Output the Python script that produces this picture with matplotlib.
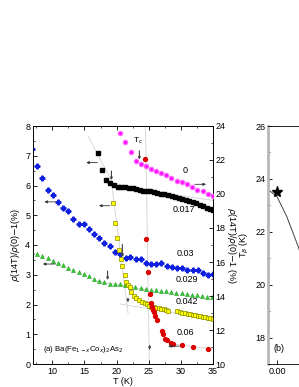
import numpy as np
import matplotlib
matplotlib.use("Agg")
import matplotlib.pyplot as plt
from matplotlib.ticker import MultipleLocator

plt.rcParams['font.family'] = ['Liberation Sans', 'DejaVu Sans']
plt.rcParams['font.size'] = 6.5

# x = 0 (right axis)
t_x0 = [20.5, 21.35, 22.18, 23.0, 23.77, 24.55, 25.36, 26.14, 26.97, 27.75, 28.53,
        29.42, 30.2, 30.98, 31.8, 32.58, 33.41, 34.19, 34.97]
r_x0 = [23.6, 23.03, 22.45, 21.97, 21.76, 21.63, 21.47, 21.35, 21.22, 21.10, 20.96,
        20.78, 20.69, 20.57, 20.39, 20.25, 20.16, 20.02, 19.86]

# x = 0.017
t_x017 = [17.14, 17.72, 18.36, 18.98, 19.56, 20.15, 20.76, 21.35, 21.9, 22.5, 23.05,
          23.6, 24.15, 24.7, 25.25, 25.8, 26.35, 26.9, 27.45, 28.0, 28.55, 29.1,
          29.65, 30.2, 30.75, 31.3, 31.85, 32.4, 32.95, 33.5, 34.05, 34.6, 35.0]
r_x017 = [7.08, 6.51, 6.19, 6.10, 6.01, 5.96, 5.96, 5.94, 5.92, 5.90, 5.88,
          5.85, 5.83, 5.82, 5.80, 5.78, 5.76, 5.73, 5.71, 5.68, 5.65, 5.62,
          5.58, 5.55, 5.51, 5.48, 5.44, 5.40, 5.36, 5.31, 5.26, 5.21, 5.16]

# x = 0.03
t_x03 = [6.9, 7.67, 8.45, 9.29, 10.12, 10.9, 11.73, 12.5, 13.29, 14.13, 14.9, 15.69,
         16.52, 17.3, 18.12, 18.9, 19.75, 20.57, 21.4, 22.15, 23.0, 23.77, 24.6,
         25.4, 26.19, 26.97, 27.86, 28.64, 29.42, 30.25, 30.98, 31.85, 32.63,
         33.47, 34.25, 34.97]
r_x03 = [7.23, 6.66, 6.25, 5.86, 5.67, 5.45, 5.24, 5.13, 4.88, 4.71, 4.71, 4.53,
         4.38, 4.25, 4.08, 3.96, 3.78, 3.70, 3.57, 3.60, 3.52, 3.52, 3.38,
         3.35, 3.35, 3.40, 3.30, 3.25, 3.23, 3.23, 3.16, 3.16, 3.16,
         3.07, 3.00, 3.03]

# x = 0.029
t_x029 = [6.9, 7.67, 8.45, 9.29, 10.12, 10.9, 11.73, 12.5, 13.29, 14.13, 14.9,
          15.74, 16.56, 17.34, 18.12, 18.9, 19.75, 20.5, 21.35, 22.13, 22.9, 23.74,
          24.52, 25.3, 26.1, 26.9, 27.7, 28.5, 29.3, 30.1, 30.9, 31.7, 32.5, 33.3,
          34.1, 34.9]
r_x029 = [3.75, 3.69, 3.64, 3.57, 3.47, 3.38, 3.32, 3.23, 3.16, 3.09, 3.03,
          2.95, 2.86, 2.80, 2.75, 2.70, 2.68, 2.68, 2.65, 2.59, 2.59, 2.55,
          2.51, 2.50, 2.48, 2.46, 2.44, 2.42, 2.40, 2.38, 2.35, 2.33, 2.31, 2.29,
          2.26, 2.24]

# x = 0.042
t_x042 = [19.48, 19.79, 20.03, 20.31, 20.62, 20.88, 21.24, 21.51, 21.82, 22.05, 22.29,
          22.65, 23.07, 23.49, 23.96, 24.36, 24.74, 25.1, 25.4, 25.75, 26.05, 26.55,
          26.95, 27.33, 27.7, 27.95, 29.42, 29.8, 30.2, 30.71, 31.1, 31.49, 31.9,
          32.27, 32.65, 33.05, 33.45, 33.83, 34.25, 34.6, 34.95]
r_x042 = [5.40, 4.73, 4.22, 3.82, 3.52, 3.29, 2.99, 2.77, 2.66, 2.58, 2.41,
          2.30, 2.22, 2.15, 2.08, 2.05, 2.01, 1.96, 1.93, 1.90, 1.88, 1.87,
          1.85, 1.84, 1.80, 1.78, 1.78, 1.75, 1.72, 1.70, 1.69, 1.68, 1.66,
          1.65, 1.63, 1.61, 1.59, 1.57, 1.55, 1.53, 1.52]

# x = 0.06
t_x06 = [24.45, 24.65, 24.85, 25.15, 25.4, 25.55, 25.7, 25.85, 26.05, 26.25, 27.05,
         27.2, 27.6, 27.85, 28.45, 28.7, 30.15, 31.9, 34.2]
r_x06 = [6.90, 4.19, 3.10, 2.35, 2.04, 1.90, 1.82, 1.74, 1.63, 1.47, 1.10,
         1.01, 0.85, 0.79, 0.70, 0.66, 0.64, 0.56, 0.52]

# panel (b)
b_curve_x = [-0.005, 0.0, 0.0054, 0.0118, 0.016]
b_curve_y = [23.6, 23.33, 22.58, 21.44, 20.5]
b_star_x = [0.0]
b_star_y = [23.52]

fig = plt.figure(figsize=(2.99, 3.87), dpi=100)
ax = fig.add_axes([33 / 299, 23 / 387, 180 / 299, 238 / 387])
ax2 = ax.twinx()
axb = fig.add_axes([268 / 299, 23 / 387, 162 / 299, 238 / 387])

ax.set_xlim(7, 35)
ax.set_ylim(0, 8)
ax2.set_ylim(10, 24)

# light guide lines
gl = dict(color='0.82', lw=0.6, zorder=1)
ax.plot([15.6, 19.4], [7.65, 6.08], **gl)
ax.plot([19.2, 21.8], [6.1, 1.7], **gl)
ax.plot([24.5, 25.1], [8.0, 0.0], **gl)
ax.plot([20.5, 35], [2.02, 1.5], **gl)
ax.plot([28.5, 35], [0.68, 0.5], **gl)
ax.plot([19.0, 35], [6.0, 5.5], **gl)
ax.plot([17.0, 24.5], [2.78, 2.5], **gl)

mk = dict(ls='none', zorder=3)
ax.plot(t_x017, r_x017, marker='s', ms=2.4, mfc='k', mec='k', **mk)
ax.plot(t_x03, r_x03, marker='P', ms=3.4, mfc='#1020e0', mec='#1020e0', **mk)
ax.plot(t_x029, r_x029, marker='^', ms=2.9, mfc='#33cc33', mec='#229922', mew=0.4, **mk)
ax.plot(t_x042, r_x042, marker='s', ms=2.7, mfc='#ffff00', mec='#8a8a00', mew=0.5, **mk)
ax.plot(t_x06, r_x06, marker='o', ms=2.8, mfc='#dd0000', mec='#dd0000', **mk)
ax2.plot(t_x0, r_x0, marker='o', ms=3.0, mfc='#ff00ff', mec='#ff66ff', **mk)

# axis arrows
ar = dict(arrowstyle='-|>,head_length=0.25,head_width=0.12', color='#333333', lw=0.6)
ax.annotate('', xy=(14.85, 6.77), xytext=(17.45, 6.77), arrowprops=ar)
ax.annotate('', xy=(16.83, 5.32), xytext=(19.37, 5.32), arrowprops=ar)
ax.annotate('', xy=(8.35, 5.45), xytext=(11.0, 5.45), arrowprops=ar)
ax.annotate('', xy=(8.1, 3.36), xytext=(10.9, 3.36), arrowprops=ar)
ax.annotate('', xy=(27.6, 0.6), xytext=(30.2, 0.6), arrowprops=ar)
ax2.annotate('', xy=(34.35, 20.57), xytext=(31.75, 20.57), arrowprops=ar)

# Tc markers
tc = dict(arrowstyle='-|>,head_length=0.2,head_width=0.1', color='#444444', lw=0.8)
ax.annotate('', xy=(19.2, 6.09), xytext=(19.2, 6.58), arrowprops=tc)
ax.annotate('', xy=(20.9, 3.5), xytext=(20.9, 4.11), arrowprops=tc)
ax.annotate('', xy=(18.6, 2.73), xytext=(18.6, 3.22), arrowprops=tc)
ax.annotate('', xy=(21.77, 1.98), xytext=(21.77, 2.3), arrowprops=tc)
ax.annotate('', xy=(25.15, 0.75), xytext=(25.15, 0.4), arrowprops=tc)
ax2.annotate('', xy=(23.55, 21.86), xytext=(23.55, 22.7), arrowprops=tc)
ax2.text(23.3, 22.85, r'T$_c$', fontsize=6, ha='center', va='bottom')

# series labels
ax2.text(30.6, 21.41, '0', ha='center', va='center')
ax.text(30.4, 5.19, '0.017', ha='center', va='center')
ax.text(30.7, 3.72, '0.03', ha='center', va='center')
ax.text(30.9, 2.85, '0.029', ha='center', va='center')
ax.text(30.9, 2.09, '0.042', ha='center', va='center')
ax.text(30.7, 1.05, '0.06', ha='center', va='center')
ax.text(8.5, 0.5, r'(a) Ba(Fe$_{1-x}$Co$_x$)$_2$As$_2$', fontsize=5.6, ha='left', va='center')

ax.set_xlabel('T (K)', labelpad=1)
ax.set_ylabel(r'$\rho$(14T)/$\rho$(0)$-$1(%)', labelpad=2)
ax2.set_ylabel(r'$\rho$(14T)/$\rho$(0)$-$1 (%)', rotation=270, labelpad=9)

ax.xaxis.set_major_locator(MultipleLocator(5))
ax.xaxis.set_minor_locator(MultipleLocator(2.5))
ax.yaxis.set_major_locator(MultipleLocator(1))
ax.yaxis.set_minor_locator(MultipleLocator(0.5))
ax2.yaxis.set_major_locator(MultipleLocator(2))
ax2.yaxis.set_minor_locator(MultipleLocator(1))
ax.tick_params(which='both', direction='in', top=True, labelsize=6.5, pad=2)
ax.tick_params(which='major', length=3, width=0.6)
ax.tick_params(which='minor', length=1.5, width=0.5)
ax2.tick_params(which='both', direction='in', labelsize=6.5, pad=2)
ax2.tick_params(which='major', length=3, width=0.6)
ax2.tick_params(which='minor', length=1.5, width=0.5)
for a in (ax, ax2):
    for s in a.spines.values():
        s.set_linewidth(0.6)

# panel (b)
axb.set_xlim(-0.005, 0.085)
axb.set_ylim(17, 26)
axb.plot(b_curve_x, b_curve_y, color='#444444', lw=0.7)
axb.plot(b_star_x, b_star_y, marker='*', ms=8, color='k', ls='none')
axb.text(0.001, 17.6, '(b)', ha='center', va='center')
axb.set_ylabel(r'T$_\beta$ (K)', labelpad=3)
axb.set_xticks([0.0])
axb.set_xticklabels(['0.00'])
axb.yaxis.set_major_locator(MultipleLocator(2))
axb.yaxis.set_minor_locator(MultipleLocator(1))
axb.tick_params(which='both', direction='in', labelsize=6.5, pad=2)
axb.tick_params(which='major', length=3, width=0.6)
axb.tick_params(which='minor', length=1.5, width=0.5)
for s in axb.spines.values():
    s.set_linewidth(0.6)
axb.spines['left'].set_color('0.72')
axb.spines['left'].set_linewidth(2)

fig.savefig('out.png', dpi=100)
